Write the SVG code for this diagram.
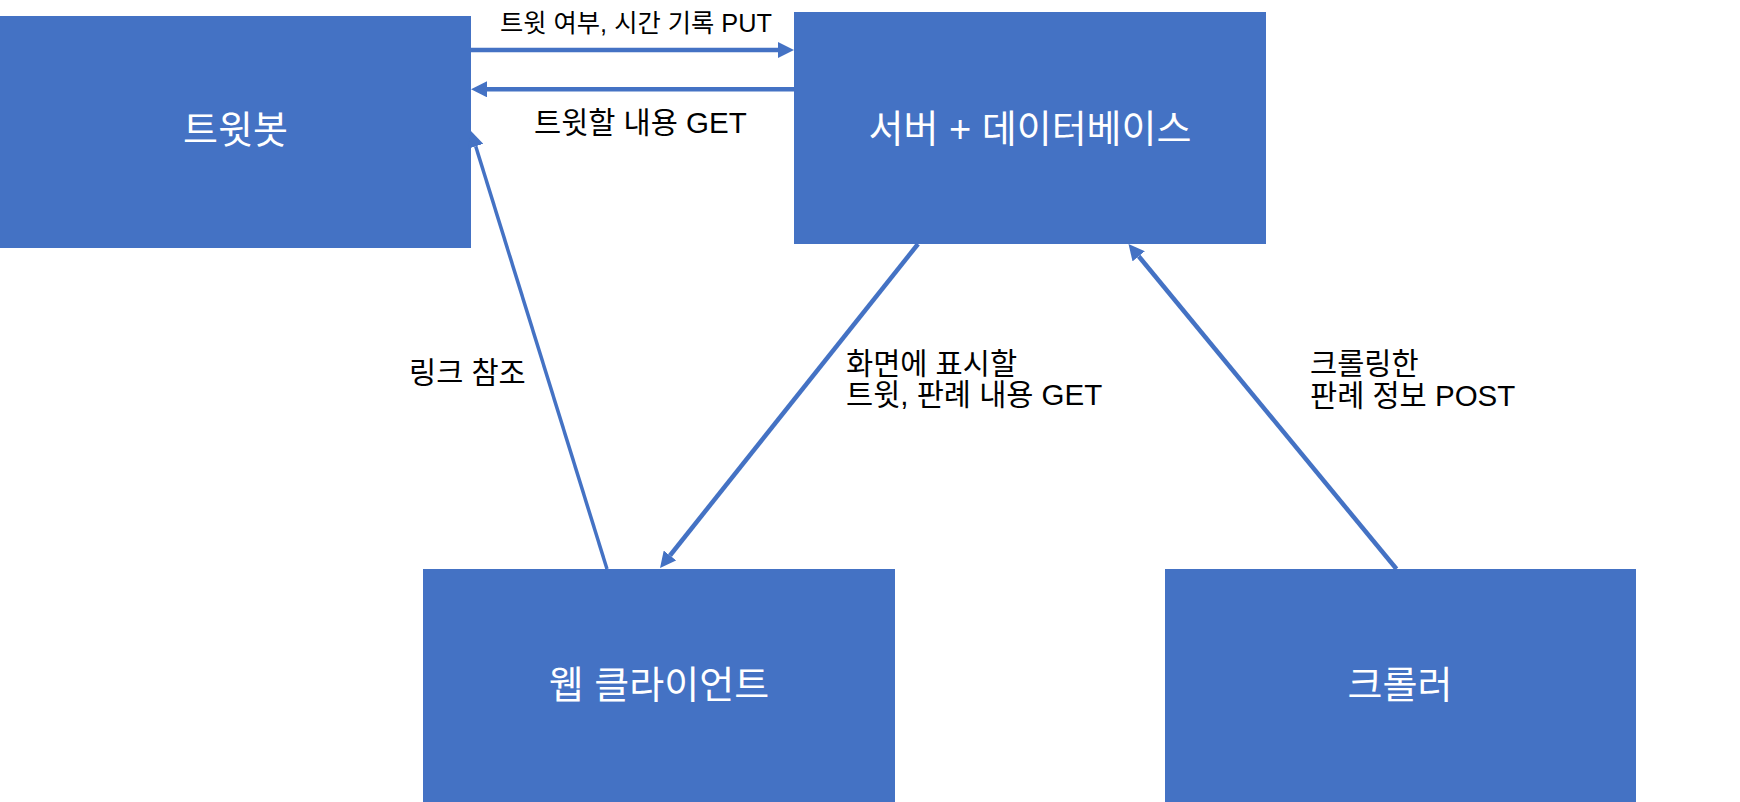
<svg xmlns="http://www.w3.org/2000/svg" width="1740" height="802" viewBox="0 0 1740 802">
  <style>
    .box { fill: #4472C4; }
    .node-label { fill: #FFFFFF; font-family: "Liberation Sans", "Noto Sans CJK KR", sans-serif; font-size: 38px; text-anchor: middle; }
    .edge-label { fill: #000000; font-family: "Liberation Sans", "Noto Sans CJK KR", sans-serif; font-size: 29.5px; }
    .edge { stroke: #4472C4; stroke-width: 4.5; fill: none; marker-end: url(#arrow); }
  </style>
  <defs>
    <marker id="arrow" viewBox="0 0 16 16" refX="0" refY="8" markerWidth="16" markerHeight="16" markerUnits="userSpaceOnUse" orient="auto">
      <path d="M0,0 L16,8 L0,16 z" fill="#4472C4"/>
    </marker>
  </defs>
  <rect width="1740" height="802" fill="#FFFFFF"/>

  <g id="tweetbot">
    <rect class="box" x="0" y="16" width="471" height="232"/>
    <text class="node-label" x="235.5" y="143">트윗봇</text>
  </g>
  <g id="server">
    <rect class="box" x="794" y="12" width="472" height="232"/>
    <text class="node-label" x="1030" y="142">서버 + 데이터베이스</text>
  </g>
  <g id="webclient">
    <rect class="box" x="423" y="569" width="472" height="233"/>
    <text class="node-label" x="659" y="698">웹 클라이언트</text>
  </g>
  <g id="crawler">
    <rect class="box" x="1165" y="569" width="471" height="233"/>
    <text class="node-label" x="1400" y="698">크롤러</text>
  </g>

  <g id="connectors">
    <line class="edge" x1="471" y1="50" x2="778" y2="50"/>
    <line class="edge" x1="794" y1="89.3" x2="487" y2="89.3"/>
    <line class="edge" style="stroke-width:3.5" x1="607" y1="569" x2="475.7" y2="146.3"/>
    <line class="edge" x1="918" y1="244" x2="670" y2="555.5"/>
    <line class="edge" x1="1396.5" y1="569" x2="1138.7" y2="256.3"/>
  </g>

  <g id="labels">
    <text class="edge-label" style="font-size:25.3px" x="500" y="32">트윗 여부, 시간 기록 PUT</text>
    <text class="edge-label" x="534" y="133">트윗할 내용 GET</text>
    <text class="edge-label" x="409" y="383">링크 참조</text>
    <text class="edge-label" x="846" y="373.5">화면에 표시할</text>
    <text class="edge-label" x="846" y="404.7">트윗, 판례 내용 GET</text>
    <text class="edge-label" x="1310" y="374">크롤링한</text>
    <text class="edge-label" x="1310" y="405.5">판례 정보 POST</text>
  </g>
</svg>
